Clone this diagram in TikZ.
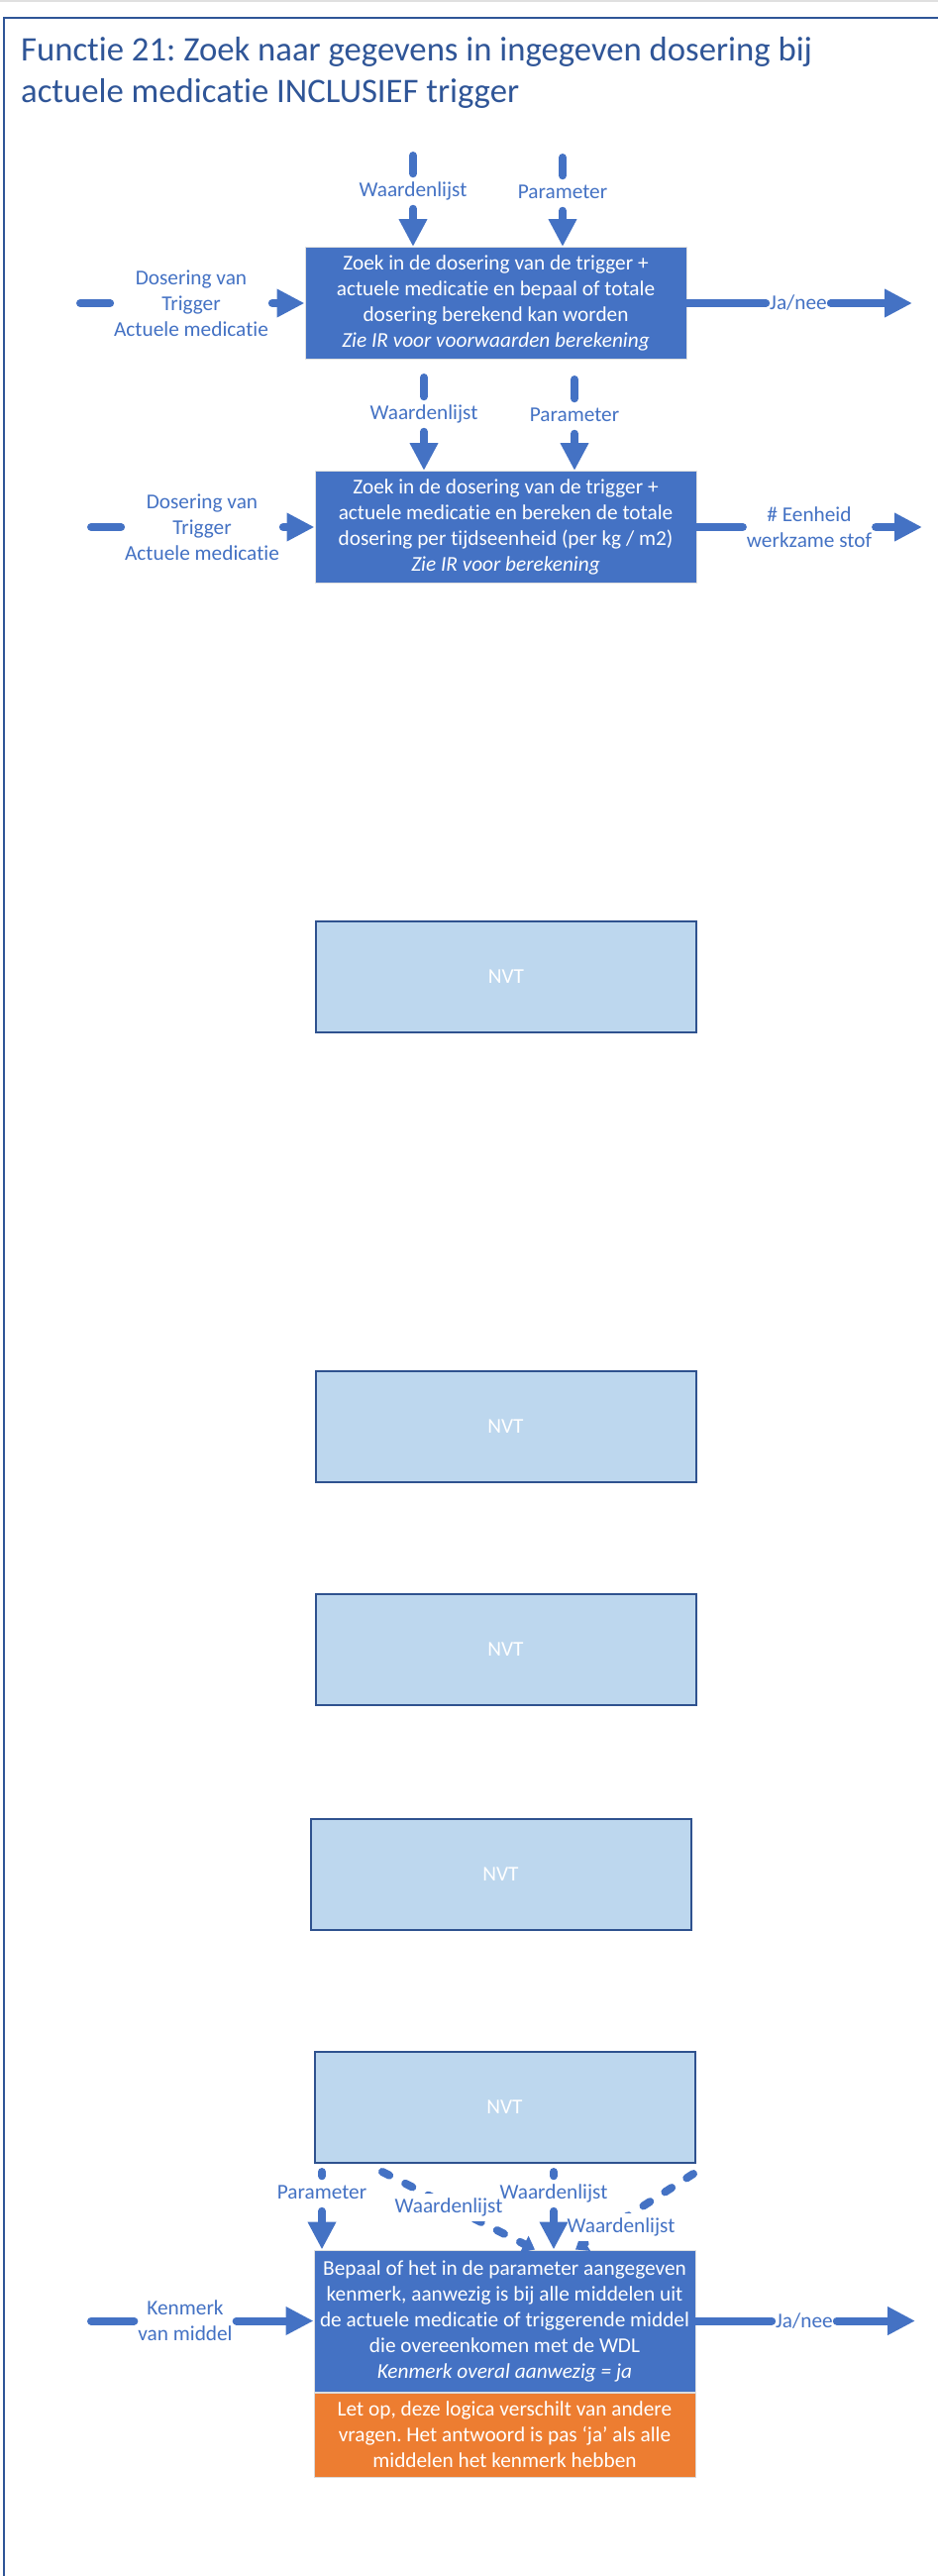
\documentclass[tikz,border=0pt]{standalone}
\usepackage{fontspec}
\setmainfont{Carlito}[Ligatures={NoCommon,NoContextual}]
\usepackage{tikz}
\usetikzlibrary{arrows.meta}
\definecolor{flowblue}{HTML}{4472C4}
\definecolor{titleblue}{HTML}{2F5597}
\definecolor{nvtfill}{HTML}{BDD7EE}
\definecolor{nvtline}{HTML}{2F528F}
\definecolor{noteorange}{HTML}{ED7D31}
\newcommand\boxfont{\fontsize{21.3}{26}\selectfont}
\frenchspacing

\begin{document}
\begin{tikzpicture}[
    x=1pt, y=-1pt,
    arrow/.style={-{Triangle[length=28pt,width=27pt]}, flowblue, line width=8pt, line cap=round},
    dasharrow/.style={-{Triangle[length=12pt,width=18pt]}, flowblue, line width=8pt, line cap=round, dash pattern=on 8pt off 18pt},
    lbl/.style={font=\boxfont, text=flowblue, fill=white, align=center, inner xsep=0pt, inner ysep=4pt, outer sep=4pt},
    vlbl/.style={lbl, text height=15pt, text depth=4.5pt},
    func/.style={fill=flowblue, draw=black!12, line width=1pt, text=white, font=\boxfont, align=center, minimum width=385pt, minimum height=113pt, inner sep=0pt},
    nvt/.style={fill=nvtfill, draw=nvtline, line width=2pt, text=white, font=\boxfont, minimum width=384pt, minimum height=112pt},
    note/.style={fill=noteorange, draw=black!15, line width=1pt, text=white, font=\boxfont, align=center, minimum width=385pt, minimum height=85pt, inner sep=0pt}
]
    \useasboundingbox (0,0) rectangle (947,2600);

    % Frame and title
    \draw[black!12, line width=2pt] (0,1) -- (947,1);
    \draw[titleblue, line width=2.5pt] (947,18) -- (4,18) -- (4,2600);
    \node[anchor=north west, inner sep=0pt, align=left, text=titleblue, font=\fontsize{34.7}{42}\selectfont] (titel) at (21,37)
        {Functie 21: Zoek naar gegevens in ingegeven dosering bij\\actuele medicatie INCLUSIEF trigger};

    % Step 1: totale dosering berekenbaar?
    \node[func] (zoek1) at (500.5,306) {Zoek in de dosering van de trigger +\\actuele medicatie en bepaal of totale\\dosering berekend kan worden\\\textit{Zie IR voor voorwaarden berekening}};
    \coordinate (wdl1) at (417,157);
    \coordinate (par1) at (568,159);
    \node[vlbl] (lwdl1) at (417,193) {Waardenlijst};
    \node[vlbl] (lpar1) at (568,195) {Parameter};
    \draw[arrow] (wdl1) -- (lwdl1) -- (lwdl1 |- zoek1.north);
    \draw[arrow] (par1) -- (lpar1) -- (lpar1 |- zoek1.north);
    \coordinate (dos1) at (81,306);
    \node[lbl] (ldos1) at (193,306) {Dosering van\\Trigger\\Actuele medicatie};
    \draw[arrow] (dos1) -- (ldos1) -- (zoek1);
    \node[lbl] (ja1) at (806,306) {Ja/nee};
    \coordinate (out1) at (921,306);
    \draw[arrow] (zoek1) -- (ja1) -- (out1);

    % Step 2: totale dosering per tijdseenheid
    \node[func] (zoek2) at (510.5,532) {Zoek in de dosering van de trigger +\\actuele medicatie en bereken de totale\\dosering per tijdseenheid (per kg / m2)\\\textit{Zie IR voor berekening}};
    \coordinate (wdl2) at (428,381);
    \coordinate (par2) at (580,383);
    \node[vlbl] (lwdl2) at (428,418) {Waardenlijst};
    \node[vlbl] (lpar2) at (580,420) {Parameter};
    \draw[arrow] (wdl2) -- (lwdl2) -- (lwdl2 |- zoek2.north);
    \draw[arrow] (par2) -- (lpar2) -- (lpar2 |- zoek2.north);
    \coordinate (dos2) at (92,532);
    \node[lbl] (ldos2) at (204,532) {Dosering van\\Trigger\\Actuele medicatie};
    \draw[arrow] (dos2) -- (ldos2) -- (zoek2);
    \node[lbl] (eenh2) at (817,532) {\# Eenheid\\werkzame stof};
    \coordinate (out2) at (931,532);
    \draw[arrow] (zoek2) -- (eenh2) -- (out2);

    % Not applicable
    \node[nvt] (nvt1) at (511,986) {NVT};
    \node[nvt] (nvt2) at (510.5,1439.5) {NVT};
    \node[nvt] (nvt3) at (510.5,1665) {NVT};
    \node[nvt] (nvt4) at (505.5,1892) {NVT};
    \node[nvt] (nvt5) at (509.5,2126.5) {NVT};

    % Step 8: kenmerk bij alle middelen
    \node[func, minimum height=143pt] (bepaal) at (509.5,2342.5) {Bepaal of het in de parameter aangegeven\\kenmerk, aanwezig is bij alle middelen uit\\de actuele medicatie of triggerende middel\\die overeenkomen met de WDL\\\textit{Kenmerk overal aanwezig = ja}};
    \node[note, anchor=north] (letop) at (bepaal.south) {Let op, deze logica verschilt van andere\\vragen. Het antwoord is pas ‘ja’ als alle\\middelen het kenmerk hebben};
    \coordinate (par8) at (325,2192);
    \coordinate (wdl8) at (559,2192);
    \node[vlbl] (lpar8) at (325,2214) {Parameter};
    \node[vlbl] (lwdl8) at (559,2214) {Waardenlijst};
    \draw[arrow] (par8) -- (lpar8) -- (lpar8 |- bepaal.north);
    \draw[arrow] (wdl8) -- (lwdl8) -- (lwdl8 |- bepaal.north);
    \coordinate (wdlA) at (386,2192);
    \coordinate (wdlB) at (700,2194);
    \coordinate (endA) at ([xshift=30.5pt]bepaal.north);
    \coordinate (endB) at ([xshift=71.5pt]bepaal.north);
    \draw[dasharrow] (wdlA) -- (endA);
    \draw[dasharrow] (wdlB) -- (endB);
    \node[vlbl] (lwdlA) at (453,2228) {Waardenlijst};
    \node[vlbl] (lwdlB) at (627,2248) {Waardenlijst};
    \coordinate (ken8) at (92,2342.5);
    \node[lbl] (lken8) at (187,2342.5) {Kenmerk\\van middel};
    \draw[arrow] (ken8) -- (lken8) -- (bepaal);
    \node[lbl] (ja8) at (812,2342.5) {Ja/nee};
    \coordinate (out8) at (924,2342.5);
    \draw[arrow] (bepaal) -- (ja8) -- (out8);
\end{tikzpicture}
\end{document}
